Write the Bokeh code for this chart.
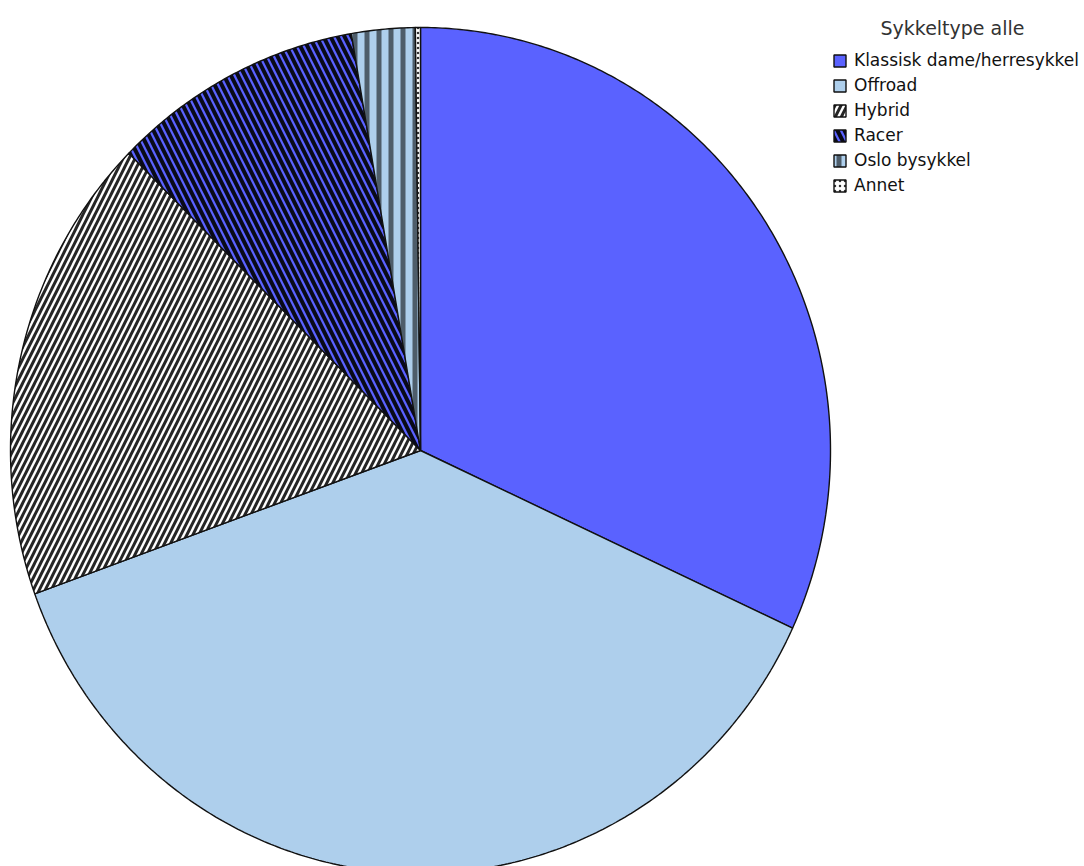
import numpy as np
from bokeh.plotting import figure
from bokeh.models import ColumnDataSource, Range1d, Legend, LegendItem, Label
from bokeh.embed import file_html
from bokeh.resources import INLINE

# ---- data ----
categories = ["Klassisk dame/herresykkel", "Offroad", "Hybrid", "Racer", "Oslo bysykkel", "Annet"]
shares = [31.9, 37.6, 17.9, 9.9, 2.5, 0.2]
legend_title = "Sykkeltype alle"

# ---- styles ----
fill_colors = ["#5a62ff", "#aecfec", "#ffffff", "#5a62ff", "#aecfec", "#ffffff"]
hatch_patterns = [" ", " ", "right_diagonal_line", "left_diagonal_line", "vertical_line", "dot"]
hatch_colors = ["#000000", "#000000", "#000000", "#000000", "#000000", "#000000"]
hatch_alphas = [1.0, 1.0, 0.85, 0.9, 0.55, 0.8]
hatch_scales = [6, 6, 12, 14, 12, 5]
hatch_weights = [1, 1, 3, 4, 5, 1.5]

W, H = 1084, 866
CX, CY = 420, 450      # pie centre (screen px)
RX, RY = 410, 423      # pie radii (slightly elliptical, as in reference)

total = sum(shares)
xs, ys = [], []
start = 0.0
for s in shares:
    ang = s / total * 2 * np.pi
    n = max(3, int(np.degrees(ang) * 2))
    t = np.linspace(start, start + ang, n)
    px = [CX] + list(CX + RX * np.sin(t)) + [CX]
    py = [CY] + list(CY - RY * np.cos(t)) + [CY]
    xs.append(px)
    ys.append(py)
    start += ang

src = ColumnDataSource(dict(
    xs=xs, ys=ys, cat=categories, fill=fill_colors,
    hp=hatch_patterns, hc=hatch_colors, ha=hatch_alphas, hs=hatch_scales, hw=hatch_weights,
))

p = figure(width=W, height=H, x_range=Range1d(0, W), y_range=Range1d(H, 0),
           toolbar_location=None, output_backend="svg", min_border=0)
p.axis.visible = False
p.grid.visible = False
p.outline_line_color = None
p.background_fill_color = "white"

r = p.patches("xs", "ys", source=src, fill_color="fill", line_color="#111111", line_width=1.4,
              hatch_pattern="hp", hatch_color="hc", hatch_alpha="ha",
              hatch_scale="hs", hatch_weight="hw")

items = [LegendItem(label=c, renderers=[r], index=i) for i, c in enumerate(categories)]
legend = Legend(items=items, location=(832, 671), padding=0, margin=0,
                border_line_alpha=0, background_fill_alpha=0,
                glyph_width=15, glyph_height=15, label_height=20, spacing=5,
                label_standoff=7, label_text_font="DejaVu Sans",
                label_text_font_size="17px", label_text_color="#111111")
p.add_layout(legend, "center")

p.add_layout(Label(x=952, y=27, text=legend_title, text_align="center", text_baseline="middle",
                   text_font="DejaVu Sans", text_font_size="19px", text_color="#333333"))

open("out.html", "w").write(file_html(p, INLINE))
